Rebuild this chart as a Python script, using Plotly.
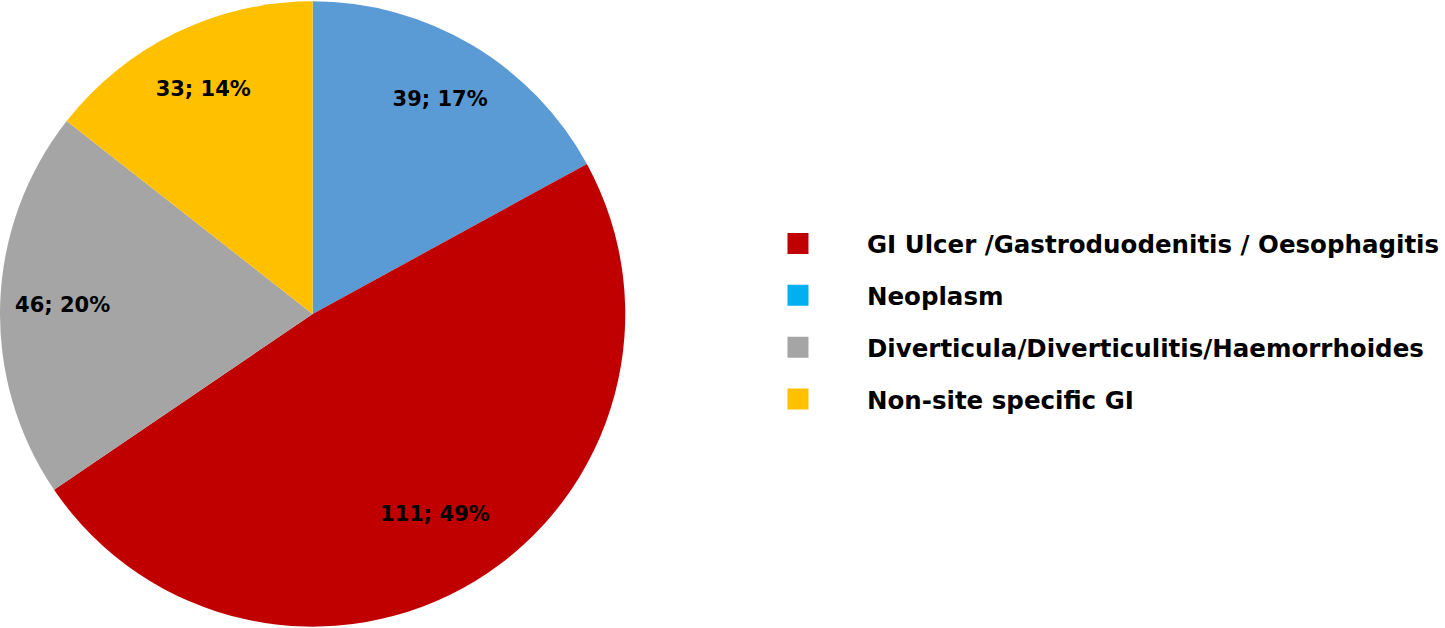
import plotly.graph_objects as go

# Pie data (clockwise from 12 o'clock)
slice_labels = ["Neoplasm", "GI Ulcer /Gastroduodenitis / Oesophagitis",
                "Diverticula/Diverticulitis/Haemorrhoides", "Non-site specific GI"]
slice_values = [39, 111, 46, 33]
slice_pct_text = ["17%", "49%", "20%", "14%"]
slice_colors = ["#5B9BD5", "#C00000", "#A5A5A5", "#FFC000"]

# Legend (order and colours as shown in the reference legend)
legend_labels = ["GI Ulcer /Gastroduodenitis / Oesophagitis", "Neoplasm",
                 "Diverticula/Diverticulitis/Haemorrhoides", "Non-site specific GI"]
legend_colors = ["#C00000", "#00B0F0", "#A5A5A5", "#FFC000"]

FONT = "DejaVu Sans"
W, H = 1445, 628
pie_domain = dict(x=[0, 627 / W], y=[0, 1])
LABEL = "<b>%{value}; %{customdata}</b>"

fig = go.Figure()
# coloured slices
fig.add_trace(go.Pie(
    labels=slice_labels,
    values=slice_values,
    textinfo="none",
    marker=dict(colors=slice_colors, line=dict(width=0)),
    sort=False, direction="clockwise", rotation=0,
    showlegend=False,
    hoverinfo="label+value+percent",
    domain=pie_domain,
))
# transparent rings carrying the data labels (big slice label sits a bit further in)
for hole, big in ((0.6, False), (0.5, True)):
    templates = [LABEL if ((v == max(slice_values)) == big) else "" for v in slice_values]
    fig.add_trace(go.Pie(
        labels=slice_labels,
        values=slice_values,
        customdata=slice_pct_text,
        texttemplate=templates,
        textposition="inside",
        insidetextorientation="horizontal",
        textfont=dict(family=FONT, size=21, color="black"),
        marker=dict(colors=["rgba(0,0,0,0)"] * len(slice_values), line=dict(width=0)),
        hole=hole,
        sort=False, direction="clockwise", rotation=0,
        showlegend=False,
        hoverinfo="skip",
        domain=pie_domain,
    ))

for i, (lab, col) in enumerate(zip(legend_labels, legend_colors)):
    fig.add_trace(go.Scatter(
        x=[None], y=[None], mode="markers", name="<b>" + lab + "</b>",
        legendgroup=f"g{i}",
        marker=dict(symbol="square", size=16, color=col, line=dict(color=col, width=5)),
        showlegend=True,
    ))

fig.update_layout(
    width=W, height=H,
    margin=dict(l=0, r=0, t=0, b=0),
    paper_bgcolor="white", plot_bgcolor="white",
    xaxis=dict(visible=False), yaxis=dict(visible=False),
    legend=dict(
        x=731 / W, y=0.488, xanchor="left", yanchor="middle",
        font=dict(family=FONT, size=24.5, color="black"),
        traceorder="grouped", tracegroupgap=17,
        itemwidth=128, itemclick=False, itemdoubleclick=False,
        bgcolor="rgba(0,0,0,0)",
    ),
)

fig.write_html("out.html", config={"displayModeBar": False},
               post_script="document.body.style.margin='0px';")
